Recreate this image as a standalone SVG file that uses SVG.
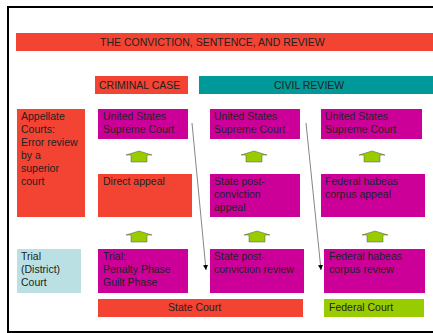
<svg xmlns="http://www.w3.org/2000/svg" width="433" height="333" viewBox="0 0 433 333">
<style>
text{font-family:"Liberation Sans",Arial,sans-serif;font-size:10.5px;fill:#222}
.red{fill:#F34333}.mag{fill:#CC0099}.teal{fill:#009999}.lb{fill:#BBE0E3}.grn{fill:#99CC00}
.up{fill:#99CC00;stroke:#555;stroke-width:0.5}
.conn{stroke:#666;stroke-width:0.8;fill:none;marker-end:url(#ah)}
</style>
<defs>
<marker id="ah" markerWidth="6" markerHeight="6" refX="5" refY="3" orient="auto" markerUnits="userSpaceOnUse">
<path d="M0,0.5 L5,3 L0,5.5 Z" fill="#000"/>
</marker>
<g id="arrowShape"><polygon class="up" points="0,4 13,0 26,4 21,4 21,11 5,11 5,4"/></g>
</defs>
<rect width="433" height="333" fill="#fff"/>
<path d="M8,333 V7 H433" fill="none" stroke="#000" stroke-width="2"/>
<path d="M7,332 H433" fill="none" stroke="#000" stroke-width="2"/>

<g id="title"><rect class="red" x="16" y="33" width="417" height="18"/><text x="100" y="46">THE CONVICTION, SENTENCE, AND REVIEW</text></g>
<g id="criminal"><rect class="red" x="95" y="76" width="93" height="18"/><text x="99" y="89">CRIMINAL CASE</text></g>
<g id="civil"><rect class="teal" x="199" y="76" width="234" height="18"/><text x="274" y="89">CIVIL REVIEW</text></g>

<g id="appellate"><rect class="red" x="17" y="109" width="68" height="108"/>
<text x="21" y="120">Appellate</text><text x="21" y="133">Courts:</text><text x="21" y="146">Error review</text><text x="21" y="159">by a</text><text x="21" y="172">superior</text><text x="21" y="185">court</text></g>
<g id="ussc1"><rect class="mag" x="98" y="109" width="90" height="30"/><text x="103" y="120">United States</text><text x="103" y="133">Supreme Court</text></g>
<g id="ussc2"><rect class="mag" x="210" y="109" width="90" height="30"/><text x="214" y="120">United States</text><text x="214" y="133">Supreme Court</text></g>
<g id="ussc3"><rect class="mag" x="321" y="109" width="101" height="30"/><text x="325" y="120">United States</text><text x="325" y="133">Supreme Court</text></g>

<g id="direct"><rect class="red" x="98" y="174" width="94" height="43"/><text x="103" y="185">Direct appeal</text></g>
<g id="spca"><rect class="mag" x="210" y="174" width="90" height="43"/><text x="214" y="185">State post-</text><text x="214" y="198">conviction</text><text x="214" y="211">appeal</text></g>
<g id="fhca"><rect class="mag" x="321" y="174" width="104" height="43"/><text x="325" y="185">Federal habeas</text><text x="325" y="198">corpus appeal</text></g>

<g id="trialcourt"><rect class="lb" x="17" y="249" width="64" height="44"/><text x="21" y="260">Trial</text><text x="21" y="273">(District)</text><text x="21" y="286">Court</text></g>
<g id="trial"><rect class="mag" x="98" y="249" width="90" height="44"/><text x="103" y="260">Trial:</text><text x="103" y="273">Penalty Phase</text><text x="103" y="286">Guilt Phase</text></g>
<g id="spcr"><rect class="mag" x="210" y="249" width="94" height="44"/><text x="214" y="260">State post-</text><text x="214" y="273">conviction review</text></g>
<g id="fhcr"><rect class="mag" x="324" y="249" width="101" height="44"/><text x="329" y="260">Federal habeas</text><text x="329" y="273">corpus review</text></g>

<g id="statecourt"><rect class="red" x="98" y="299" width="205" height="18"/><text x="168" y="311">State Court</text></g>
<g id="federalcourt"><rect class="grn" x="324" y="299" width="100" height="18"/><text x="329" y="311">Federal Court</text></g>

<g id="connectors">
<use href="#arrowShape" x="126" y="151"/>
<use href="#arrowShape" x="241" y="151"/>
<use href="#arrowShape" x="359" y="151"/>
<use href="#arrowShape" x="126" y="231"/>
<use href="#arrowShape" x="244" y="231"/>
<use href="#arrowShape" x="362" y="231"/>
<line class="conn" x1="192" y1="123" x2="206" y2="270"/>
<line class="conn" x1="306" y1="123" x2="321" y2="270"/>
</g>
</svg>
